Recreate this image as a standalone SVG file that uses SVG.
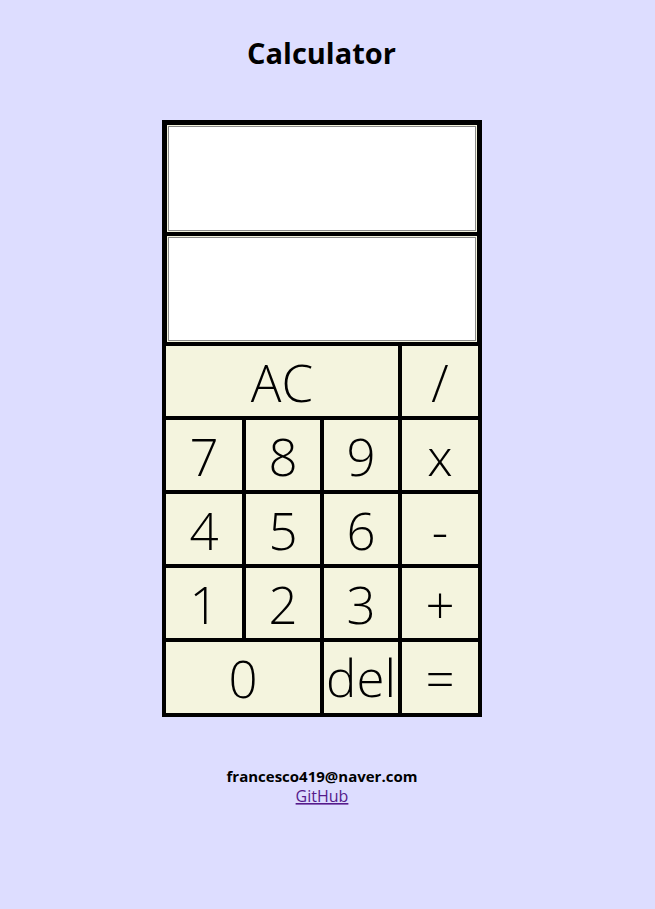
<svg xmlns="http://www.w3.org/2000/svg" width="655" height="909" viewBox="0 0 655 909">
<style>
.key{fill:#F4F4DE}
.inp{fill:#FFFFFF;stroke:#8A8A8A;stroke-width:1}
.lbl{font-family:"Open Sans","Noto Sans",sans-serif;font-size:51px;font-weight:300;fill:#000;text-anchor:middle}
.title{font-family:"Open Sans","Noto Sans",sans-serif;font-size:29px;font-weight:700;fill:#000;text-anchor:middle}
.foot{font-family:"Open Sans","Noto Sans",sans-serif;font-size:15px;fill:#000;text-anchor:middle}
</style>
<rect x="0" y="0" width="655" height="909" fill="#DDDDFF"/>
<text class="title" x="321.5" y="64">Calculator</text>
<g id="calculator">
<rect x="162" y="120" width="320" height="597" fill="#000"/>
<g id="display1"><rect class="key" x="167" y="125" width="310" height="107"/><rect class="inp" x="168.5" y="126.5" width="307" height="104"/></g>
<g id="display2"><rect class="key" x="167" y="236" width="310" height="106"/><rect class="inp" x="168.5" y="237.5" width="307" height="103"/></g>
<g id="key-ac"><rect class="key" x="166" y="346" width="232" height="70"/><text class="lbl" x="282" y="402">AC</text></g>
<g id="key-div"><rect class="key" x="402" y="346" width="76" height="70"/><text class="lbl" x="440" y="402">/</text></g>
<g id="key-7"><rect class="key" x="166" y="420" width="76" height="70"/><text class="lbl" x="204" y="476">7</text></g>
<g id="key-8"><rect class="key" x="246" y="420" width="74" height="70"/><text class="lbl" x="283" y="476">8</text></g>
<g id="key-9"><rect class="key" x="324" y="420" width="74" height="70"/><text class="lbl" x="361" y="476">9</text></g>
<g id="key-mul"><rect class="key" x="402" y="420" width="76" height="70"/><text class="lbl" x="440" y="476">x</text></g>
<g id="key-4"><rect class="key" x="166" y="494" width="76" height="70"/><text class="lbl" x="204" y="550">4</text></g>
<g id="key-5"><rect class="key" x="246" y="494" width="74" height="70"/><text class="lbl" x="283" y="550">5</text></g>
<g id="key-6"><rect class="key" x="324" y="494" width="74" height="70"/><text class="lbl" x="361" y="550">6</text></g>
<g id="key-sub"><rect class="key" x="402" y="494" width="76" height="70"/><text class="lbl" x="440" y="550">-</text></g>
<g id="key-1"><rect class="key" x="166" y="568" width="76" height="70"/><text class="lbl" x="204" y="624">1</text></g>
<g id="key-2"><rect class="key" x="246" y="568" width="74" height="70"/><text class="lbl" x="283" y="624">2</text></g>
<g id="key-3"><rect class="key" x="324" y="568" width="74" height="70"/><text class="lbl" x="361" y="624">3</text></g>
<g id="key-add"><rect class="key" x="402" y="568" width="76" height="70"/><text class="lbl" x="440" y="624">+</text></g>
<g id="key-0"><rect class="key" x="166" y="642" width="154" height="71"/><text class="lbl" x="243" y="698">0</text></g>
<g id="key-del"><rect class="key" x="324" y="642" width="74" height="71"/><text class="lbl" x="361" y="697">del</text></g>
<g id="key-eq"><rect class="key" x="402" y="642" width="76" height="71"/><text class="lbl" x="440" y="698">=</text></g>
</g>
<g id="connectors"/>
<text class="foot" x="322" y="782" font-weight="700">francesco419@naver.com</text>
<text class="foot" x="322" y="802" font-size="16" style="fill:#551A8B;font-size:16px" text-decoration="underline">GitHub</text>
</svg>
